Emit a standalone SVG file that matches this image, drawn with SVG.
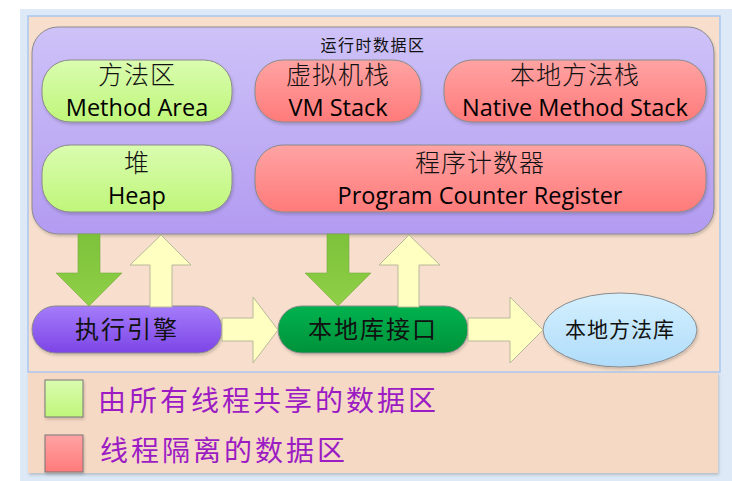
<svg xmlns="http://www.w3.org/2000/svg" width="732" height="481" viewBox="0 0 732 481">
<defs>
<linearGradient id="gPurple" x1="0" y1="0" x2="0" y2="1"><stop offset="0" stop-color="#cec2f8"/><stop offset="1" stop-color="#b29bf1"/></linearGradient>
<linearGradient id="gGreen" x1="0" y1="0" x2="0" y2="1"><stop offset="0" stop-color="#dafcb0"/><stop offset="1" stop-color="#bff67a"/></linearGradient>
<linearGradient id="gRed" x1="0" y1="0" x2="0" y2="1"><stop offset="0" stop-color="#ffa3a3"/><stop offset="1" stop-color="#ff7a7a"/></linearGradient>
<linearGradient id="gExec" x1="0" y1="0" x2="0" y2="1"><stop offset="0" stop-color="#a57cfb"/><stop offset="1" stop-color="#7c45e6"/></linearGradient>
<linearGradient id="gNative" x1="0" y1="0" x2="0" y2="1"><stop offset="0" stop-color="#00b24e"/><stop offset="1" stop-color="#00923a"/></linearGradient>
<linearGradient id="gLib" x1="0" y1="0" x2="0" y2="1"><stop offset="0" stop-color="#d4f0fe"/><stop offset="1" stop-color="#afdcfa"/></linearGradient>
<linearGradient id="gArrow" x1="0" y1="0" x2="0" y2="1"><stop offset="0" stop-color="#7cc23a"/><stop offset="1" stop-color="#8fd048"/></linearGradient>
<filter id="sh" x="-10%" y="-10%" width="120%" height="130%"><feDropShadow dx="1" dy="2" stdDeviation="1.5" flood-color="#000" flood-opacity="0.18"/></filter>
</defs>
<style>
.box{stroke:#8a8a8a;stroke-width:1;filter:url(#sh)}
.cn{font-family:"Noto Sans CJK SC","Noto Sans",sans-serif;text-anchor:middle;fill:#111}
.lt{font-weight:300;font-size:25px;letter-spacing:1px}
.en{font-family:"Open Sans","Noto Sans",sans-serif;text-anchor:middle;fill:#000;font-size:23.5px}
.yarrow{fill:#ffffc2;stroke:#b8b89a;stroke-width:1}
.garrow{fill:url(#gArrow);stroke:#7aa840;stroke-width:0.6}
.legend{font-family:"Noto Sans CJK SC",sans-serif;fill:#9c1cc4;font-size:28px;letter-spacing:3px}
</style>
<!-- backdrop -->
<rect x="0" y="0" width="732" height="481" fill="#ffffff"/>
<rect x="20" y="9" width="712" height="472" fill="#dde9f6"/>
<rect x="28" y="372" width="690" height="101" fill="#f6d9c5" filter="url(#sh)"/>
<rect x="28" y="16" width="692" height="356" fill="#f8dfcd" stroke="#a9c7ef" stroke-width="1.5"/>

<g id="runtime-data-area">
<rect x="32" y="27" width="682" height="207" rx="26" ry="26" fill="url(#gPurple)" class="box"/>
<text x="373" y="51" class="cn" font-size="16" letter-spacing="1.5">运行时数据区</text>
</g>
<g id="method-area">
<rect x="42" y="60" width="190" height="62" rx="28" ry="28" fill="url(#gGreen)" class="box"/>
<text x="137" y="84" class="cn lt">方法区</text>
<text x="137" y="116" class="en">Method Area</text>
</g>
<g id="vm-stack">
<rect x="255" y="60" width="166" height="62" rx="28" ry="28" fill="url(#gRed)" class="box"/>
<text x="338" y="84" class="cn lt">虚拟机栈</text>
<text x="338" y="116" class="en">VM Stack</text>
</g>
<g id="native-method-stack">
<rect x="444" y="60" width="262" height="62" rx="28" ry="28" fill="url(#gRed)" class="box"/>
<text x="575" y="84" class="cn lt">本地方法栈</text>
<text x="575" y="116" class="en">Native Method Stack</text>
</g>
<g id="heap">
<rect x="42" y="145" width="190" height="67" rx="28" ry="28" fill="url(#gGreen)" class="box"/>
<text x="137" y="172" class="cn lt">堆</text>
<text x="137" y="204" class="en">Heap</text>
</g>
<g id="program-counter-register">
<rect x="255" y="145" width="451" height="67" rx="28" ry="28" fill="url(#gRed)" class="box"/>
<text x="480" y="172" class="cn lt">程序计数器</text>
<text x="480" y="204" class="en">Program Counter Register</text>
</g>
<g id="execution-engine">
<rect x="32" y="306" width="190" height="47" rx="23.5" ry="23.5" fill="url(#gExec)" class="box"/>
<text x="127" y="338" class="cn" font-size="24" letter-spacing="2">执行引擎</text>
</g>
<g id="native-interface">
<rect x="278" y="306" width="190" height="47" rx="23.5" ry="23.5" fill="url(#gNative)" class="box"/>
<text x="373" y="338" class="cn" font-size="24" letter-spacing="2">本地库接口</text>
</g>
<g id="native-library">
<ellipse cx="620" cy="330" rx="77" ry="37" fill="url(#gLib)" stroke="#8a8a8a" stroke-width="1" filter="url(#sh)"/>
<text x="620" y="337" class="cn" font-size="21" letter-spacing="1">本地方法库</text>
</g>

<g id="connectors">
<polygon class="garrow" points="78,234 100,234 100,273 122,273 89,306 56,273 78,273"/>
<polygon class="yarrow" points="150,307 172,307 172,265 191,265 161,235 130,265 150,265"/>
<polygon class="garrow" points="327,234 349,234 349,273 371,273 338,306 305,273 327,273"/>
<polygon class="yarrow" points="398,307 419,307 419,265 440,265 409,235 379,265 398,265"/>
<polygon class="yarrow" points="222,318 253,318 253,297 278,330 253,363 253,341 222,341"/>
<polygon class="yarrow" points="468,318 510,318 510,297 543,330 510,363 510,341 468,341"/>
</g>

<g id="legend">
<rect x="45" y="380" width="38" height="37" fill="url(#gGreen)" stroke="#777" stroke-width="1" filter="url(#sh)"/>
<text x="98" y="411" class="legend">由所有线程共享的数据区</text>
<rect x="45" y="435" width="38" height="37" fill="url(#gRed)" stroke="#777" stroke-width="1" filter="url(#sh)"/>
<text x="100" y="461" class="legend">线程隔离的数据区</text>
</g>
</svg>
